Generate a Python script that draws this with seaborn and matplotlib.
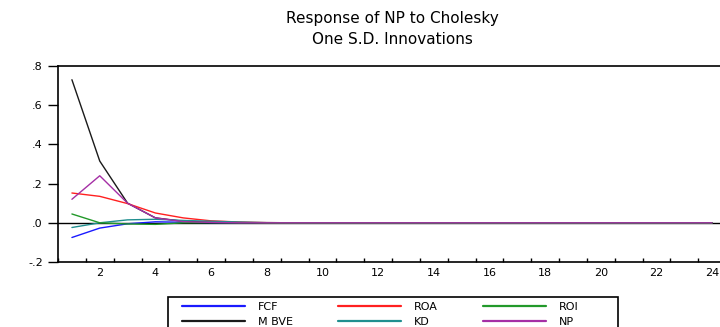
import matplotlib
matplotlib.use("Agg")
import matplotlib.pyplot as plt
import seaborn as sns
import pandas as pd
from matplotlib.ticker import FixedLocator, FixedFormatter
from matplotlib.lines import Line2D
from matplotlib.patches import Rectangle

periods = list(range(1, 25))
fcf  = [-0.075, -0.027, -0.005, 0.005, 0.003, 0.001, 0.0, 0.0, 0.0, 0.0, 0.0, 0.0,
        0.0, 0.0, 0.0, 0.0, 0.0, 0.0, 0.0, 0.0, 0.0, 0.0, 0.0, 0.0]
mbve = [0.730, 0.315, 0.100, 0.025, 0.008, 0.003, 0.001, 0.0, 0.0, 0.0, 0.0, 0.0,
        0.0, 0.0, 0.0, 0.0, 0.0, 0.0, 0.0, 0.0, 0.0, 0.0, 0.0, 0.0]
roa  = [0.152, 0.135, 0.098, 0.050, 0.025, 0.010, 0.004, 0.001, 0.0, 0.0, 0.0, 0.0,
        0.0, 0.0, 0.0, 0.0, 0.0, 0.0, 0.0, 0.0, 0.0, 0.0, 0.0, 0.0]
kd   = [-0.024, 0.000, 0.015, 0.018, 0.012, 0.008, 0.004, 0.001, 0.0, 0.0, 0.0, 0.0,
        0.0, 0.0, 0.0, 0.0, 0.0, 0.0, 0.0, 0.0, 0.0, 0.0, 0.0, 0.0]
roi  = [0.045, 0.000, -0.006, -0.008, 0.0, 0.001, 0.0, 0.0, 0.0, 0.0, 0.0, 0.0,
        0.0, 0.0, 0.0, 0.0, 0.0, 0.0, 0.0, 0.0, 0.0, 0.0, 0.0, 0.0]
np_  = [0.120, 0.240, 0.100, 0.025, 0.006, 0.002, 0.0, 0.0, 0.0, 0.0, 0.0, 0.0,
        0.0, 0.0, 0.0, 0.0, 0.0, 0.0, 0.0, 0.0, 0.0, 0.0, 0.0, 0.0]

series_names = ["FCF", "MBVE", "ROA", "KD", "ROI", "NP"]
series_vals = [fcf, mbve, roa, kd, roi, np_]
legend_labels = ["FCF", "M BVE", "ROA", "KD", "ROI", "NP"]
colors = ["#1a1aff", "#1a1a1a", "#ff2020", "#208f8f", "#22992a", "#a52fa5"]

y_ticks = [-0.2, 0.0, 0.2, 0.4, 0.6, 0.8]
y_labels = ["-.2", ".0", ".2", ".4", ".6", ".8"]
x_ticks = list(range(2, 25, 2))
x_labels = [str(v) for v in x_ticks]

df = pd.DataFrame({
    "period": periods * len(series_names),
    "value": [v for vals in series_vals for v in vals],
    "series": [n for n in series_names for _ in periods],
})

sns.set_style("white")
plt.rcParams["font.family"] = ["DejaVu Sans"]
plt.rcParams["text.color"] = "black"
plt.rcParams["xtick.color"] = "black"
plt.rcParams["ytick.color"] = "black"
plt.rcParams["axes.labelcolor"] = "black"

fig = plt.figure(figsize=(7.2, 3.27), dpi=100)
ax = fig.add_axes([58/720, 65/327, (726-58)/720, (262-66)/327])

ax.axhline(0, color="black", lw=1.0, zorder=1)
sns.lineplot(data=df, x="period", y="value", hue="series", hue_order=series_names,
             palette=dict(zip(series_names, colors)), lw=1.0, ax=ax, legend=False,
             zorder=3)

ax.set_xlim(0.5, 24.5)
ax.set_ylim(-0.2, 0.8)
ax.set_xlabel("")
ax.set_ylabel("")

ax.yaxis.set_major_locator(FixedLocator(y_ticks))
ax.yaxis.set_major_formatter(FixedFormatter(y_labels))
ax.xaxis.set_major_locator(FixedLocator(x_ticks))
ax.xaxis.set_major_formatter(FixedFormatter(x_labels))
ax.xaxis.set_minor_locator(FixedLocator([p + 0.5 for p in range(0, 25)]))
ax.tick_params(axis="x", which="major", length=0, pad=4, labelsize=8, labelcolor="black")
ax.tick_params(axis="x", which="minor", direction="in", length=3, width=1, color="black", bottom=True)
ax.tick_params(axis="y", which="major", direction="out", length=7, width=1, color="black",
               pad=4, labelsize=8, left=True, labelcolor="black")

for s in ["left", "bottom", "top", "right"]:
    ax.spines[s].set_visible(True)
    ax.spines[s].set_color("black")
    ax.spines[s].set_linewidth(1.2)

fig.text(392/720, 1 - 18/327, "Response of NP to Cholesky", ha="center", va="center",
         fontsize=11, color="black")
fig.text(392/720, 1 - 40/327, "One S.D. Innovations", ha="center", va="center",
         fontsize=11, color="black")

# legend box frame (bottom runs off the figure, as in the reference)
fig.patches.append(Rectangle((168/720, -0.1), (618-168)/720, (1 - 297/327) + 0.1,
                             transform=fig.transFigure, fill=False, edgecolor="black",
                             linewidth=1.2, zorder=5))

handles = [Line2D([0], [0], color=c, lw=1.6) for c in colors]
leg = fig.legend(handles, legend_labels, ncol=3, loc="upper left",
                 bbox_to_anchor=(182/720, 1 - 302/327), borderaxespad=0,
                 fontsize=8, handlelength=5.7, handletextpad=1.1, columnspacing=4.1,
                 labelspacing=0.45, borderpad=0.0, frameon=False)
for t in leg.get_texts():
    t.set_color("black")

fig.savefig("out.png", dpi=100)
